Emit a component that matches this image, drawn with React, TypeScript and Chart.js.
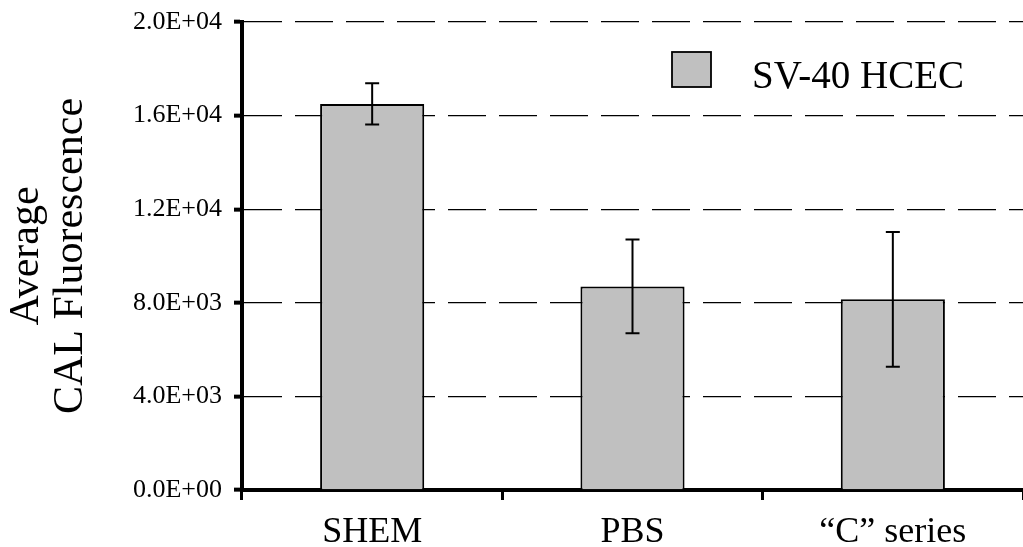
import React, { useEffect, useRef } from "react";
import { Chart, registerables } from "chart.js";

Chart.register(...registerables);

const categories = ["SHEM", "PBS", "\u201CC\u201D series"];
const seriesLabel = "SV-40 HCEC";
const meanValues = [16500, 8700, 8150];
const errorValues = [880, 2000, 2880];
const yTickValues = [0, 4000, 8000, 12000, 16000, 20000];
const yTitleLines = ["Average", "CAL Fluorescence"];

const FONT = "'Liberation Serif', 'Times New Roman', serif";

function formatSci(v: number): string {
  if (v === 0) return "0.0E+00";
  const exp = Math.floor(Math.log10(Math.abs(v)));
  const mant = v / Math.pow(10, exp);
  const e = String(Math.abs(exp)).padStart(2, "0");
  return `${mant.toFixed(1)}E${exp >= 0 ? "+" : "-"}${e}`;
}

const errorBarPlugin = {
  id: "errorBars",
  afterDatasetsDraw(chart: any) {
    const meta = chart.getDatasetMeta(0);
    const yScale = chart.scales.y;
    const ctx = chart.ctx;
    ctx.save();
    ctx.strokeStyle = "#000";
    ctx.lineWidth = 2;
    meta.data.forEach((el: any, i: number) => {
      const v = meanValues[i];
      const e = errorValues[i];
      const x = el.x;
      const yt = yScale.getPixelForValue(v + e);
      const yb = yScale.getPixelForValue(v - e);
      const hw = 7;
      ctx.beginPath();
      ctx.moveTo(x, yt);
      ctx.lineTo(x, yb);
      ctx.moveTo(x - hw, yt);
      ctx.lineTo(x + hw, yt);
      ctx.moveTo(x - hw, yb);
      ctx.lineTo(x + hw, yb);
      ctx.stroke();
    });
    ctx.restore();
  },
};

const legendPlugin = {
  id: "customLegend",
  afterDraw(chart: any) {
    const ctx = chart.ctx;
    const area = chart.chartArea;
    const ds = chart.data.datasets[0];
    const bx = area.left + 430;
    const by = area.top + 30;
    ctx.save();
    ctx.fillStyle = ds.backgroundColor;
    ctx.fillRect(bx, by, 39, 35);
    ctx.strokeStyle = "#000";
    ctx.lineWidth = 1.8;
    ctx.strokeRect(bx, by, 39, 35);
    ctx.fillStyle = "#000";
    ctx.font = `39px ${FONT}`;
    ctx.textBaseline = "alphabetic";
    ctx.textAlign = "left";
    ctx.fillText(ds.label, bx + 80, by + 36);
    ctx.restore();
  },
};

export default function App() {
  const canvasRef = useRef<HTMLCanvasElement | null>(null);

  useEffect(() => {
    document.body.style.margin = "0";
    document.body.style.background = "#ffffff";
    const canvas = canvasRef.current;
    if (!canvas) return;
    const chart = new Chart(canvas, {
      type: "bar",
      data: {
        labels: categories,
        datasets: [
          {
            label: seriesLabel,
            data: meanValues,
            backgroundColor: "#c0c0c0",
            borderColor: "#000000",
            borderWidth: 2,
            barPercentage: 0.4,
            categoryPercentage: 1.0,
          },
        ],
      },
      options: {
        responsive: false,
        animation: false,
        devicePixelRatio: 1,
        layout: { padding: { top: 22, right: 0, bottom: 0, left: 0 } },
        plugins: {
          legend: { display: false },
          tooltip: { enabled: false },
        },
        scales: {
          x: {
            grid: {
              display: true,
              drawOnChartArea: false,
              drawTicks: true,
              tickLength: 10,
              tickWidth: 3,
              tickColor: "#000",
              color: "#000",
              offset: true,
            },
            border: { display: true, color: "#000", width: 4 },
            ticks: {
              color: "#000",
              padding: 11,
              font: { family: FONT, size: 36 },
              maxRotation: 0,
              autoSkip: false,
            },
            afterFit: (scale: any) => {
              scale.height = 57;
              scale.paddingLeft = 0;
              scale.paddingRight = 0;
            },
          },
          y: {
            min: 0,
            max: 20000,
            afterBuildTicks: (scale: any) => {
              scale.ticks = yTickValues.map((v) => ({ value: v }));
            },
            grid: {
              display: true,
              color: "#000",
              lineWidth: 1.3,
              drawTicks: true,
              tickLength: 8,
              tickWidth: 4,
              tickColor: "#000",
            },
            border: { display: true, color: "#000", width: 4, dash: [38, 13] },
            ticks: {
              color: "#000",
              padding: 12,
              font: { family: FONT, size: 26 },
              callback: (v: any) => formatSci(Number(v)),
            },
            title: {
              display: true,
              text: yTitleLines,
              color: "#000",
              font: { family: FONT, size: 42, lineHeight: 1.07 },
              padding: { top: 4, bottom: 0 },
            },
            afterFit: (scale: any) => {
              scale.width = 242;
              scale.paddingTop = 0;
              scale.paddingBottom = 0;
            },
          },
        },
      },
      plugins: [errorBarPlugin, legendPlugin],
    });
    return () => chart.destroy();
  }, []);

  return (
    <div style={{ width: 1023, height: 547, background: "#fff" }}>
      <canvas ref={canvasRef} width={1023} height={547} style={{ display: "block" }} />
    </div>
  );
}
